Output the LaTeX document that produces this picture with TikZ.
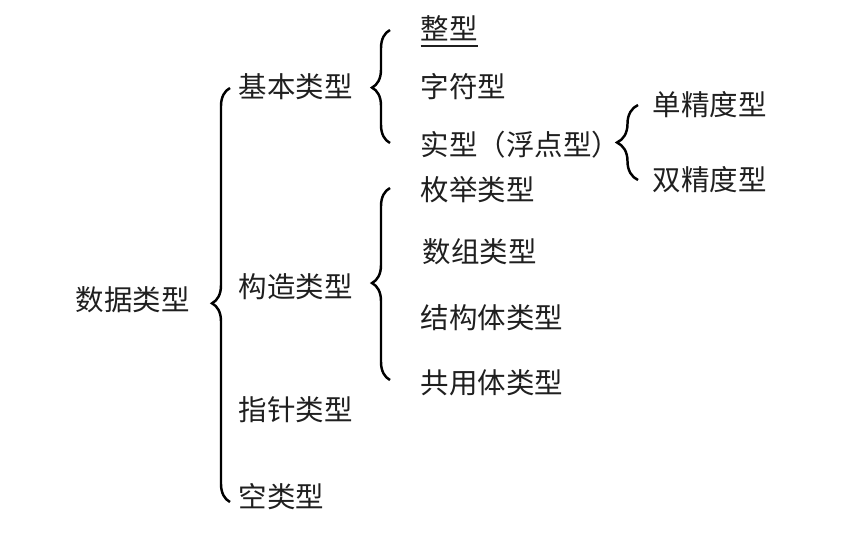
\documentclass[tikz,border=0pt]{standalone}
\usepackage{fontspec}
\setmainfont{Noto Sans CJK SC}
\usepackage{tikz}
\usetikzlibrary{decorations.pathreplacing}

\begin{document}
\begin{tikzpicture}[
    lbl/.style={anchor=west,inner sep=0pt,text=black!88,font=\fontsize{8.1}{10}\selectfont},
    brc/.style={decorate,decoration={brace,amplitude=1.8mm,aspect=#1},line width=0.7pt},
    brc/.default=0.5]
    \useasboundingbox (0,0) rectangle (8.52,5.36);
    \node[lbl] (data) at (0.75,2.36) {数据类型};
    \node[lbl] (basic) at (2.38,4.49) {基本类型};
    \node[lbl] (struct) at (2.38,2.49) {构造类型};
    \node[lbl] (ptr) at (2.38,1.26) {指针类型};
    \node[lbl] (void) at (2.38,0.39) {空类型};
    \node[lbl] (int) at (4.20,5.04) {\underline{整型}};
    \node[lbl] (char) at (4.20,4.49) {字符型};
    \node[lbl] (real) at (4.20,3.91) {实型（浮点型）};
    \node[lbl] (single) at (6.52,4.31) {单精度型};
    \node[lbl] (double) at (6.52,3.56) {双精度型};
    \node[lbl] (enum) at (4.20,3.46) {枚举类型};
    \node[lbl] (array) at (4.22,2.84) {数组类型};
    \node[lbl] (record) at (4.20,2.18) {结构体类型};
    \node[lbl] (union) at (4.20,1.53) {共用体类型};
    % brace ends
    \coordinate (a1) at (2.30,0.34);
    \coordinate (a2) at (2.30,4.48);
    \coordinate (b1) at (3.90,3.93);
    \coordinate (b2) at (3.90,5.06);
    \coordinate (c1) at (6.38,3.56);
    \coordinate (c2) at (6.38,4.31);
    \coordinate (d1) at (3.90,1.56);
    \coordinate (d2) at (3.90,3.48);
    \draw[brc=0.48] (a1) -- (a2);
    \draw[brc=0.49] (b1) -- (b2);
    \draw[brc,decoration={amplitude=2.1mm}] (c1) -- (c2);
    \draw[brc=0.505] (d1) -- (d2);
\end{tikzpicture}
\end{document}
